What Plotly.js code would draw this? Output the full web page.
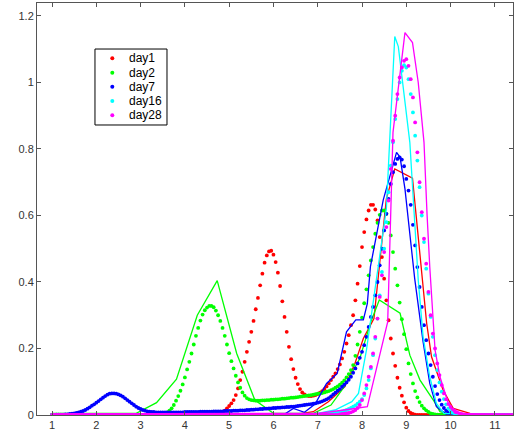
<!DOCTYPE html>
<html>
<head>
<meta charset="utf-8">
<script src="https://cdn.plot.ly/plotly-3.0.1.min.js"></script>
<style>html,body{margin:0;padding:0;background:#fff;}#chart{width:515px;height:436px;}</style>
</head>
<body>
<div id="chart"></div>
<script>
// Sampling grid of the fitted (dotted) curves
var fitX = [
1,1.05,1.1,1.15,1.2,1.25,1.3,1.35,1.4,1.45,1.5,1.55,1.6,1.65,1.7,1.75,1.8,1.85,1.9,1.95,
2,2.05,2.1,2.15,2.2,2.25,2.3,2.35,2.4,2.45,2.5,2.55,2.6,2.65,2.7,2.75,2.8,2.85,2.9,2.95,
3,3.05,3.1,3.15,3.2,3.25,3.3,3.35,3.4,3.45,3.5,3.55,3.6,3.65,3.7,3.75,3.8,3.85,3.9,3.95,
4,4.05,4.1,4.15,4.2,4.25,4.3,4.35,4.4,4.45,4.5,4.55,4.6,4.65,4.7,4.75,4.8,4.85,4.9,4.95,
5,5.05,5.1,5.15,5.2,5.25,5.3,5.35,5.4,5.45,5.5,5.55,5.6,5.65,5.7,5.75,5.8,5.85,5.9,5.95,
6,6.05,6.1,6.15,6.2,6.25,6.3,6.35,6.4,6.45,6.5,6.55,6.6,6.65,6.7,6.75,6.8,6.85,6.9,6.95,
7,7.05,7.1,7.15,7.2,7.25,7.3,7.35,7.4,7.45,7.5,7.55,7.6,7.65,7.7,7.75,7.8,7.85,7.9,7.95,
8,8.05,8.1,8.15,8.2,8.25,8.3,8.35,8.4,8.45,8.5,8.55,8.6,8.65,8.7,8.75,8.8,8.85,8.9,8.95,
9,9.05,9.1,9.15,9.2,9.25,9.3,9.35,9.4,9.45,9.5,9.55,9.6,9.65,9.7,9.75,9.8,9.85,9.9,9.95,
10,10.05,10.1,10.15,10.2,10.25,10.3,10.35,10.4,10.45,10.5,10.55,10.6,10.65,10.7,10.75,10.8,10.85,10.9,10.95,
11,11.05,11.1,11.15,11.2,11.25,11.3,11.35,11.4];

var fitDay1 = [
0,0,0,0,0,0,0,0,0,0,0,0,0,0,0,0,0,0,0,0,
0,0,0,0,0,0,0,0,0,0,0,0,0,0,0,0,0,0,0,0,
0,0,0,0,0,0,0,0,0,0,0,0,0,0,0,0,0,0,0,0,
0,0,0,0,0,0,0,0,0,0,0,0,0,0.001,0.002,0.003,0.005,0.008,0.013,0.02,
0.027,0.035,0.045,0.06,0.08,0.105,0.13,0.16,0.19,0.22,0.25,0.283,0.318,0.352,0.39,0.425,0.458,0.48,0.492,0.494,
0.482,0.46,0.428,0.388,0.342,0.295,0.25,0.205,0.168,0.138,0.112,0.093,0.078,0.068,0.062,0.058,0.057,0.057,0.058,0.06,
0.063,0.067,0.072,0.078,0.086,0.095,0.105,0.115,0.125,0.138,0.152,0.17,0.19,0.215,0.24,0.27,0.3,0.345,0.395,0.448,
0.505,0.55,0.588,0.615,0.632,0.632,0.618,0.585,0.535,0.475,0.41,0.345,0.285,0.23,0.185,0.148,0.112,0.082,0.058,0.038,
0.022,0.012,0.006,0.003,0.001,0,0,0,0,0,0,0,0,0,0,0,0,0,0,0,
0,0,0,0,0,0,0,0,0,0,0,0,0,0,0,0,0,0,0,0,
0,0,0,0,0,0,0,0,0];

var fitDay2 = [
0,0,0,0,0,0,0,0,0,0,0,0,0,0,0,0,0,0,0,0,
0,0,0,0,0,0,0,0,0,0,0,0,0,0,0,0,0,0,0,0,
0,0,0,0,0,0,0,0,0.001,0.002,0.003,0.005,0.008,0.013,0.02,0.03,0.043,0.057,0.073,0.092,
0.113,0.137,0.16,0.185,0.212,0.238,0.262,0.284,0.302,0.315,0.323,0.328,0.328,0.324,0.314,0.3,0.283,0.262,0.238,0.212,
0.186,0.162,0.14,0.118,0.098,0.082,0.068,0.058,0.051,0.047,0.045,0.044,0.043,0.043,0.043,0.044,0.044,0.045,0.045,0.046,
0.046,0.047,0.047,0.048,0.049,0.049,0.05,0.051,0.052,0.052,0.053,0.054,0.055,0.056,0.057,0.058,0.059,0.06,0.061,0.063,
0.064,0.065,0.066,0.068,0.07,0.072,0.075,0.078,0.082,0.086,0.091,0.097,0.104,0.113,0.123,0.135,0.15,0.178,0.212,0.25,
0.293,0.336,0.378,0.42,0.465,0.505,0.545,0.578,0.602,0.615,0.615,0.605,0.578,0.54,0.49,0.44,0.39,0.338,0.288,0.243,
0.198,0.155,0.123,0.095,0.072,0.053,0.039,0.028,0.02,0.014,0.009,0.005,0.003,0.002,0.001,0,0,0,0,0,
0,0,0,0,0,0,0,0,0,0,0,0,0,0,0,0,0,0,0,0,
0,0,0,0,0,0,0,0,0];

var fitDay7 = [
0,0,0.001,0.001,0.001,0.001,0.002,0.002,0.003,0.004,0.005,0.006,0.008,0.01,0.012,0.015,0.019,0.023,0.028,0.032,
0.037,0.042,0.047,0.052,0.057,0.061,0.064,0.065,0.065,0.064,0.062,0.059,0.055,0.05,0.045,0.04,0.035,0.03,0.025,0.021,
0.018,0.015,0.013,0.011,0.01,0.009,0.009,0.008,0.008,0.008,0.008,0.008,0.008,0.008,0.008,0.008,0.008,0.008,0.008,0.008,
0.009,0.009,0.009,0.009,0.009,0.009,0.009,0.01,0.01,0.01,0.01,0.01,0.01,0.011,0.011,0.011,0.011,0.011,0.012,0.012,
0.012,0.012,0.013,0.013,0.013,0.014,0.014,0.014,0.015,0.015,0.016,0.016,0.017,0.017,0.018,0.018,0.019,0.019,0.02,0.02,
0.021,0.021,0.022,0.022,0.023,0.023,0.024,0.024,0.025,0.025,0.026,0.027,0.028,0.029,0.03,0.031,0.032,0.033,0.034,0.035,
0.037,0.039,0.041,0.044,0.047,0.051,0.056,0.062,0.067,0.073,0.078,0.085,0.091,0.098,0.106,0.115,0.127,0.14,0.155,0.172,
0.19,0.21,0.235,0.265,0.295,0.325,0.36,0.4,0.45,0.5,0.555,0.605,0.65,0.695,0.73,0.755,0.77,0.775,0.768,0.748,
0.71,0.675,0.632,0.572,0.51,0.445,0.385,0.325,0.27,0.225,0.185,0.15,0.115,0.087,0.063,0.045,0.031,0.021,0.013,0.008,
0.005,0.003,0.002,0.001,0,0,0,0,0,0,0,0,0,0,0,0,0,0,0,0,
0,0,0,0,0,0,0,0,0];

var fitDay16 = [
0,0,0,0,0,0,0,0,0,0,0,0,0,0,0,0,0,0,0,0,
0,0,0,0,0,0,0,0,0,0,0,0,0,0,0,0,0,0,0,0,
0,0,0,0,0,0,0,0,0,0,0,0,0,0,0,0,0,0,0,0,
0,0,0,0,0,0,0,0,0,0,0,0,0,0,0,0,0,0,0,0,
0,0,0,0,0,0,0,0,0,0,0,0,0,0,0,0,0,0,0,0,
0,0,0,0,0,0,0,0,0,0,0,0,0,0,0,0,0,0,0,0,
0.002,0.002,0.003,0.003,0.004,0.004,0.005,0.006,0.007,0.008,0.009,0.011,0.013,0.015,0.018,0.021,0.025,0.029,0.034,0.04,
0.048,0.06,0.08,0.105,0.14,0.18,0.23,0.29,0.36,0.43,0.5,0.58,0.67,0.75,0.82,0.89,0.95,1.0,1.035,1.052,
1.045,1.01,0.965,0.91,0.84,0.765,0.685,0.6,0.52,0.44,0.365,0.295,0.235,0.18,0.135,0.098,0.07,0.048,0.032,0.02,
0.012,0.007,0.004,0.002,0.001,0,0,0,0,0,0,0,0,0,0,0,0,0,0,0,
0,0,0,0,0,0,0,0,0];

var fitDay28 = [
0,0,0,0,0,0,0,0,0,0,0,0,0,0,0,0,0,0,0,0,
0,0,0,0,0,0,0,0,0,0,0,0,0,0,0,0,0,0,0,0,
0,0,0,0,0,0,0,0,0,0,0,0,0,0,0,0,0,0,0,0,
0,0,0,0,0,0,0,0,0,0,0,0,0,0,0,0,0,0,0,0,
0,0,0,0,0,0,0,0,0,0,0,0,0,0,0,0,0,0,0,0,
0,0,0,0,0,0,0,0,0,0,0,0,0,0,0,0,0,0,0,0,
0,0,0,0,0,0,0,0,0,0,0.002,0.003,0.004,0.005,0.006,0.008,0.011,0.015,0.021,0.03,
0.045,0.065,0.09,0.115,0.145,0.185,0.235,0.29,0.355,0.42,0.49,0.565,0.645,0.74,0.825,0.9,0.965,1.015,1.045,1.065,
1.07,1.05,1.01,0.955,0.88,0.79,0.7,0.61,0.53,0.455,0.37,0.3,0.245,0.2,0.155,0.12,0.09,0.065,0.047,0.033,
0.024,0.017,0.012,0.008,0.005,0.003,0.002,0.001,0,0,0,0,0,0,0,0,0,0,0,0,
0,0,0,0,0,0,0,0,0];

// Measured (solid) curves
var day1X = [1,6.5,6.9,7.24,7.61,7.84,8.03,8.27,8.55,8.74,9.14,9.27,9.38,9.46,9.57,9.83,10.06,10.44,11.4];
var day1Y = [0,0.002,0.01,0.04,0.085,0.155,0.23,0.29,0.65,0.74,0.712,0.526,0.376,0.276,0.175,0.075,0.02,0.005,0];
var day2X = [1,2.9,3.36,3.81,4.28,4.73,5.17,5.58,6.0,6.9,7.3,7.6,7.95,8.2,8.39,8.63,8.86,9.08,9.31,9.61,9.76,10.0,11.4];
var day2Y = [0.005,0.005,0.037,0.108,0.3,0.404,0.185,0.045,0.005,0.005,0.03,0.085,0.17,0.28,0.346,0.326,0.306,0.18,0.105,0.045,0.01,0.002,0];
var day7X = [1,5.5,6.0,6.22,6.45,6.7,6.94,7.2,7.44,7.65,7.86,8.03,8.12,8.19,8.48,8.78,8.86,8.97,9.19,9.38,9.53,9.68,9.9,11.4];
var day7Y = [0,0.002,0.003,0,0.02,0.008,0.033,0.095,0.125,0.25,0.286,0.286,0.335,0.446,0.647,0.79,0.775,0.68,0.41,0.22,0.095,0.025,0.003,0];
var day16X = [1,6.5,7.0,7.39,7.77,7.92,8.1,8.2,8.55,8.74,8.82,9.08,9.27,9.38,9.53,9.68,9.85,11.4];
var day16Y = [0,0.002,0.005,0.015,0.04,0.065,0.195,0.29,0.62,1.138,1.108,0.82,0.406,0.235,0.115,0.035,0.005,0];
var day28X = [1,7.0,7.6,7.88,8.12,8.58,8.64,8.7,8.97,9.14,9.27,9.4,9.47,9.53,9.65,9.76,9.95,10.1,11.4];
var day28Y = [0.003,0.005,0.015,0.02,0.025,0.28,0.6,0.85,1.15,1.12,1.0,0.82,0.6,0.446,0.195,0.115,0.035,0.005,0];

var seriesNames = ['day1','day2','day7','day16','day28'];
var seriesColors = ['#ff0000','#00ff00','#0000ff','#00ffff','#ff00ff'];
var xTicks = [1,2,3,4,5,6,7,8,9,10,11];
var yTicks = [0,0.2,0.4,0.6,0.8,1,1.2];
var yTickText = ['0','0.2','0.4','0.6','0.8','1','1.2'];

var fits = [fitDay1, fitDay2, fitDay7, fitDay16, fitDay28];
var lineX = [day1X, day2X, day7X, day16X, day28X];
var lineY = [day1Y, day2Y, day7Y, day16Y, day28Y];

var traces = [];
for (var i = 0; i < 5; i++) {
  traces.push({
    x: fitX, y: fits[i], type: 'scatter', mode: 'markers', name: seriesNames[i],
    marker: {color: seriesColors[i], size: 3.8, line: {width: 0}},
    showlegend: false, hoverinfo: 'skip'
  });
  traces.push({
    x: lineX[i], y: lineY[i], type: 'scatter', mode: 'lines', name: seriesNames[i] + ' data',
    line: {color: seriesColors[i], width: 1.3},
    showlegend: false, hoverinfo: 'skip'
  });
}

// Legend box drawn in paper coordinates (MATLAB-style compact legend)
var legX0 = 0.1218, legX1 = 0.2731, legY0 = 0.7039, legY1 = 0.8883;
var dotX = 0.1582, textX = 0.1885;
var rowY = [0.8658, 0.8308, 0.7968, 0.7621, 0.7274];
var shapes = [{type: 'rect', xref: 'paper', yref: 'paper', x0: legX0, x1: legX1, y0: legY0, y1: legY1,
  line: {color: '#000', width: 1}, fillcolor: '#fff', layer: 'above'}];
var annotations = [];
for (var k = 0; k < 5; k++) {
  shapes.push({type: 'circle', xref: 'paper', yref: 'paper', xsizemode: 'pixel', ysizemode: 'pixel',
    xanchor: dotX, yanchor: rowY[k], x0: -2, x1: 2, y0: -2, y1: 2,
    line: {width: 0}, fillcolor: seriesColors[k], layer: 'above'});
  annotations.push({xref: 'paper', yref: 'paper', x: textX, y: rowY[k], xanchor: 'left', yanchor: 'middle',
    text: seriesNames[k], showarrow: false, font: {family: 'Liberation Sans, Arial, sans-serif', size: 12, color: '#000'}});
}

var axisCommon = {
  showgrid: false, zeroline: false, showline: true, mirror: 'ticks', linecolor: '#555', linewidth: 1,
  ticks: 'inside', ticklen: 4, tickcolor: '#555', tickwidth: 1,
  tickfont: {family: 'Liberation Sans, Arial, sans-serif', size: 11, color: '#333'}
};

var layout = {
  width: 515, height: 436,
  margin: {l: 37, r: 2, t: 3, b: 21, pad: 0},
  paper_bgcolor: '#fff', plot_bgcolor: '#fff',
  showlegend: false,
  xaxis: Object.assign({}, axisCommon, {range: [0.66, 11.41], tickmode: 'array', tickvals: xTicks}),
  yaxis: Object.assign({}, axisCommon, {range: [0, 1.239], tickmode: 'array', tickvals: yTicks, ticktext: yTickText}),
  shapes: shapes,
  annotations: annotations
};

Plotly.newPlot('chart', traces, layout, {displayModeBar: false, staticPlot: true});
</script>
</body>
</html>
